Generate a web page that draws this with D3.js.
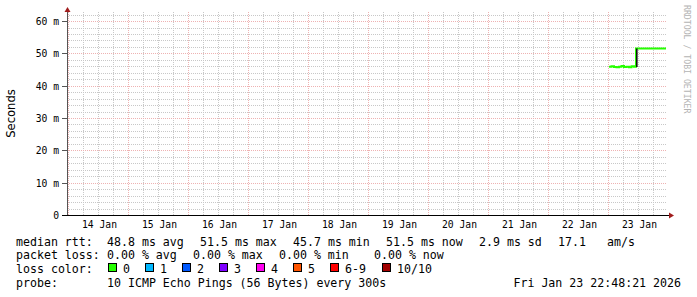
<!DOCTYPE html>
<html>
<head>
<meta charset="utf-8">
<script src="https://cdn.jsdelivr.net/npm/d3@7"></script>
<style>
  body { margin: 0; background: #fff; }
  svg { display: block; }
</style>
</head>
<body>
<svg id="chart"></svg>
<script>
const dayLabels = ["14 Jan", "15 Jan", "16 Jan", "17 Jan", "18 Jan", "19 Jan", "20 Jan", "21 Jan", "22 Jan", "23 Jan"];
const dayDates = ["2026-01-14", "2026-01-15", "2026-01-16", "2026-01-17", "2026-01-18", "2026-01-19", "2026-01-20", "2026-01-21", "2026-01-22", "2026-01-23"];
const yTicks = [0, 10, 20, 30, 40, 50, 60];
const yTickLabels = ["0", "10 m", "20 m", "30 m", "40 m", "50 m", "60 m"];

// median rtt (ms) per sample, only the last day has data
const medianTimes = ["2026-01-23T00:24", "2026-01-23T01:24", "2026-01-23T02:24", "2026-01-23T03:24",
  "2026-01-23T04:24", "2026-01-23T05:24", "2026-01-23T06:24", "2026-01-23T07:24", "2026-01-23T08:24",
  "2026-01-23T09:24", "2026-01-23T10:24", "2026-01-23T11:12", "2026-01-23T13:00", "2026-01-23T15:00",
  "2026-01-23T17:00", "2026-01-23T19:00", "2026-01-23T21:00", "2026-01-23T23:12"];
const medianValues = [45.9, 46.0, 45.8, 45.7, 45.9, 46.1, 45.8, 45.9, 45.7, 46.0, 45.9,
  51.5, 51.5, 51.5, 51.5, 51.5, 51.5, 51.5];

// smoke (spread of pings) where it is visible
const smokeTimes = ["2026-01-23T11:00"];
const smokeLow = [45.8];
const smokeHigh = [51.5];

const lossLabels = ["0", "1", "2", "3", "4", "5", "6-9", "10/10"];
const lossColors = ["#26ff00", "#00b8ff", "#0059ff", "#7e00ff", "#ff00f0", "#ff5500", "#ff0000", "#a10000"];

const rttStats = ["48.8 ms avg", "51.5 ms max", "45.7 ms min", "51.5 ms now", "2.9 ms sd", "17.1", "am/s"];
const lossStats = ["0.00 % avg", "0.00 % max", "0.00 % min", "0.00 % now"];
const probeText = "10 ICMP Echo Pings (56 Bytes) every 300s";
const stampText = "Fri Jan 23 22:48:21 2026";

const width = 697, height = 297;
const mono = "'DejaVu Sans Mono', monospace";
const parse = d3.timeParse("%Y-%m-%dT%H:%M");
const parseDay = d3.timeParse("%Y-%m-%d");

const svg = d3.select("#chart").attr("width", width).attr("height", height)
  .attr("viewBox", [0, 0, width, height]);
svg.append("rect").attr("width", width).attr("height", height).attr("fill", "#fff");

const start = parse("2026-01-13T23:36");
const end = d3.timeHour.offset(start, 240);
const x = d3.scaleTime().domain([start, end]).range([67, 667]);
const y = d3.scaleLinear().domain([0, 62.8]).range([215, 12]);

// grid
const grid = svg.append("g").attr("shape-rendering", "crispEdges");
const minorX = d3.timeHour.every(6).range(start, end).filter(d => d.getHours() !== 0);
const majorX = d3.timeDay.range(start, end);
const minorY = d3.range(2, 63, 2).filter(v => v % 10 !== 0);
const majorY = yTicks.filter(v => v > 0);

grid.selectAll(".vminor").data(minorX).join("line")
  .attr("x1", d => Math.round(x(d)) + 0.5).attr("x2", d => Math.round(x(d)) + 0.5)
  .attr("y1", y(62.8)).attr("y2", 215)
  .attr("stroke", "#c8c8c8").attr("stroke-dasharray", "1,1");
grid.selectAll(".hminor").data(minorY).join("line")
  .attr("x1", 67).attr("x2", 667)
  .attr("y1", d => Math.round(y(d)) + 0.5).attr("y2", d => Math.round(y(d)) + 0.5)
  .attr("stroke", "#c8c8c8").attr("stroke-dasharray", "1,1");
grid.selectAll(".vmajor").data(majorX).join("line")
  .attr("x1", d => Math.round(x(d)) + 0.5).attr("x2", d => Math.round(x(d)) + 0.5)
  .attr("y1", y(62.8)).attr("y2", 215)
  .attr("stroke", "#eeb2b2").attr("stroke-dasharray", "1,1");
grid.selectAll(".hmajor").data(majorY).join("line")
  .attr("x1", 67).attr("x2", 667)
  .attr("y1", d => Math.round(y(d)) + 0.5).attr("y2", d => Math.round(y(d)) + 0.5)
  .attr("stroke", "#eeb2b2").attr("stroke-dasharray", "1,1");

// median line
const points = medianTimes.map((t, i) => [parse(t), medianValues[i]]);
const line = d3.line().x(d => x(d[0])).y(d => y(d[1])).curve(d3.curveStepAfter);
svg.append("path").attr("d", line(points))
  .attr("fill", "none").attr("stroke", lossColors[0]).attr("stroke-width", 2);

// smoke
svg.selectAll(".smoke").data(smokeTimes).join("rect")
  .attr("x", (d, i) => x(parse(d)) + 0.5).attr("width", 1.6)
  .attr("y", (d, i) => y(smokeHigh[i]))
  .attr("height", (d, i) => y(smokeLow[i]) - y(smokeHigh[i]))
  .attr("fill", "#111");

// axes
const yAxis = svg.append("g").attr("transform", "translate(67,0)")
  .call(d3.axisLeft(y).tickValues(yTicks).tickFormat((d, i) => yTickLabels[i]).tickSize(5).tickPadding(3));
yAxis.select(".domain").remove();
yAxis.selectAll(".tick line").attr("stroke", "#555").attr("shape-rendering", "crispEdges");
yAxis.selectAll("text").attr("font-family", mono).attr("font-size", 9.7).attr("fill", "#000").attr("dy", "0.35em");

const xAxis = svg.append("g").attr("transform", "translate(0,215)")
  .call(d3.axisBottom(x).tickValues(dayDates.map(d => d3.timeHour.offset(parseDay(d), 12)))
    .tickFormat((d, i) => dayLabels[i]).tickSize(0).tickPadding(6));
xAxis.select(".domain").remove();
xAxis.selectAll("text").attr("font-family", mono).attr("font-size", 9.7).attr("fill", "#000")
  .attr("dy", "0.71em").attr("x", 1);

svg.append("line").attr("x1", 67.5).attr("x2", 67.5).attr("y1", 216).attr("y2", 10)
  .attr("stroke", "#555");
svg.append("line").attr("x1", 62).attr("x2", 670).attr("y1", 215.5).attr("y2", 215.5)
  .attr("stroke", "#000");
svg.append("path").attr("d", "M64.5,12 L67.5,7 L70.5,12 Z").attr("fill", "#a01c1c");
svg.append("path").attr("d", "M669,212.5 L674,215.5 L669,218.5 Z").attr("fill", "#a01c1c");

// titles
svg.append("text").attr("transform", "translate(15,113.5) rotate(-90)")
  .attr("text-anchor", "middle").attr("font-family", "'DejaVu Sans', sans-serif")
  .attr("font-size", 11.6).attr("fill", "#000").text("Seconds");
svg.append("text").attr("transform", "translate(684,5) rotate(90)")
  .attr("font-family", mono).attr("font-size", 8.2).attr("fill", "#b4b4b4")
  .text("RRDTOOL / TOBI OETIKER");

// legend
const leg = svg.append("g").attr("font-family", mono).attr("font-size", 11.6).attr("fill", "#000")
  .style("white-space", "pre");
const rows = [245.5, 259, 272.5, 286.5];
leg.append("text").attr("x", 16).attr("y", rows[0]).text("median rtt:");
leg.append("text").attr("x", 16).attr("y", rows[1]).text("packet loss:");
leg.append("text").attr("x", 16).attr("y", rows[2]).text("loss color:");
leg.append("text").attr("x", 16).attr("y", rows[3]).text("probe:");

const rttX = [107, 200, 293, 386, 479, 558, 607];
leg.selectAll(".rtt").data(rttStats).join("text")
  .attr("x", (d, i) => rttX[i]).attr("y", rows[0]).text(d => d);
const lossX = [107, 193, 279, 374];
leg.selectAll(".loss").data(lossStats).join("text")
  .attr("x", (d, i) => lossX[i]).attr("y", rows[1]).text(d => d);

const boxX = lossLabels.map((d, i) => i < 7 ? 108 + 37 * i : 382);
leg.selectAll(".box").data(lossColors).join("rect")
  .attr("x", (d, i) => boxX[i] + 0.5).attr("y", 263.5).attr("width", 8).attr("height", 8)
  .attr("fill", d => d).attr("stroke", "#000");
leg.selectAll(".lbl").data(lossLabels).join("text")
  .attr("x", (d, i) => boxX[i] + 15).attr("y", rows[2]).text(d => d);

leg.append("text").attr("x", 107).attr("y", rows[3]).text(probeText);
leg.append("text").attr("x", 681).attr("y", rows[3]).attr("text-anchor", "end").text(stampText);
</script>
</body>
</html>
